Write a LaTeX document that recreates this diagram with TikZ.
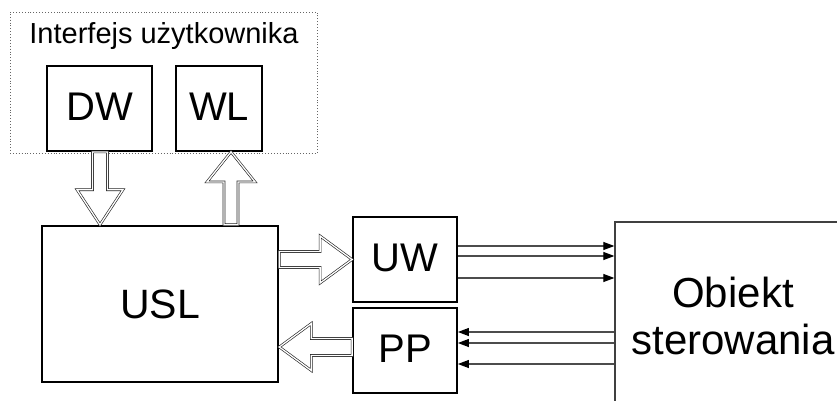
\documentclass[tikz,border=0pt]{standalone}
\usepackage{fontspec}
\setmainfont{Liberation Sans}
\usetikzlibrary{arrows.meta,calc}
\newcommand\blockarrow[5]{%
  \draw[hollow] let \p1=(#1), \p2=(#2),
      \n1={atan2(\y2-\y1,\x2-\x1)}, \n2={veclen(\x2-\x1,\y2-\y1)} in
    [shift={(\p1)}, rotate=\n1]
    (0,#3) -- (\n2-#5,#3) -- (\n2-#5,#4) -- (\n2,0) -- (\n2-#5,-#4)
    -- (\n2-#5,-#3) -- (0,-#3) -- cycle;}
\begin{document}
\begin{tikzpicture}[x=1pt,y=-1pt,
  box/.style={draw=black, line width=1.8pt, minimum width=104pt, minimum height=85pt,
    inner sep=0pt, font=\fontsize{40}{40}\selectfont, text depth=4pt},
  bigbox/.style={draw=black, line width=2.6pt, inner sep=0pt, font=\fontsize{41}{41}\selectfont},
  groupbox/.style={draw=black!60, dotted, line width=0.9pt, inner sep=0pt},
  objbox/.style={draw=black!75, line width=1.3pt, inner sep=0pt},
  hollow/.style={draw=black!85, double=white, double distance=1.3pt, line width=0.65pt, fill=white, line join=miter},
  sig/.style={draw=black!70, line width=1.1pt, -{Triangle[length=11pt,width=8pt,color=black]}}]
\fill[white] (0,0) rectangle (837,401);
\useasboundingbox (0,0) rectangle (837,401);

% group
\node[groupbox, minimum width=307pt, minimum height=141pt] (ui) at (163.5,82.5) {};
\node[font=\fontsize{29}{29}\selectfont, anchor=base] (uitext) at (164,44) {Interfejs użytkownika};

% boxes
\node[box, minimum width=105pt] (dw) at (99.5,108.5) {DW};
\node[box, minimum width=86pt] (wl) at (219,108.5) {WL};
\node[bigbox, minimum width=236pt, minimum height=156pt] (usl) at (160,304) {USL};
\node[box] (uw) at (405,259.5) {UW};
\node[box] (pp) at (405,350.5) {PP};

% object
\node[objbox, minimum width=260pt, minimum height=200pt] (obj) at (745,322) {};
\node[font=\fontsize{42}{47}\selectfont, align=center] (objtext) at (733,316) {Obiekt\\sterowania};

% hollow arrows
\coordinate (a1s) at ([xshift=0.5pt]dw.south);
\coordinate (a1e) at (a1s |- usl.north);
\blockarrow{a1s}{a1e}{7.5}{23}{35}
\coordinate (a2e) at ([xshift=12pt]wl.south);
\coordinate (a2s) at (a2e |- usl.north);
\blockarrow{a2s}{a2e}{7}{24}{30}
\coordinate (a3e) at (uw.west);
\coordinate (a3s) at (usl.east |- a3e);
\blockarrow{a3s}{a3e}{8}{23.5}{32}
\coordinate (a4s) at ([yshift=3.5pt]pp.west);
\coordinate (a4e) at (usl.east |- a4s);
\blockarrow{a4s}{a4e}{8.5}{23.5}{32}

% signal lines
\coordinate (o1) at ([yshift=13.5pt]uw.east);
\coordinate (o2) at ([yshift=3.5pt]uw.east);
\coordinate (o3) at ([yshift=-18.5pt]uw.east);
\draw[sig] (o1) -- (o1 -| obj.west);
\draw[sig] (o2) -- (o2 -| obj.west);
\draw[sig] (o3) -- (o3 -| obj.west);
\coordinate (i1) at ([yshift=18.5pt]pp.east);
\coordinate (i2) at ([yshift=7.5pt]pp.east);
\coordinate (i3) at ([yshift=-13.5pt]pp.east);
\draw[sig] (i1 -| obj.west) -- (i1);
\draw[sig] (i2 -| obj.west) -- (i2);
\draw[sig] (i3 -| obj.west) -- (i3);
\end{tikzpicture}
\end{document}
